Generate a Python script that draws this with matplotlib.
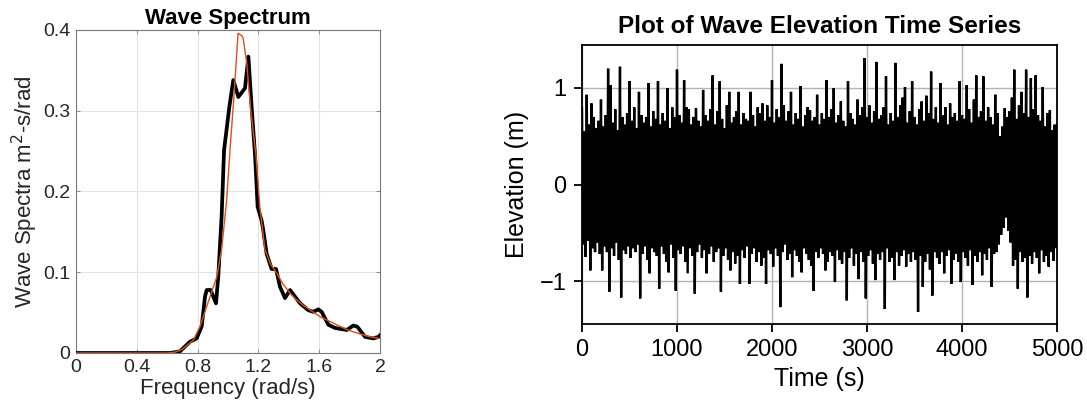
import numpy as np
import matplotlib
matplotlib.use("Agg")
import matplotlib.pyplot as plt

plt.rcParams['font.family'] = ['Liberation Sans', 'DejaVu Sans']

# Spectrum estimated from the record (thick black line)
freq_est = [0.0, 0.62, 0.684, 0.75, 0.794, 0.827, 0.849, 0.86, 0.886, 0.921,
            0.936, 0.958, 0.974, 1.009, 1.035, 1.068, 1.112, 1.134, 1.156,
            1.178, 1.195, 1.221, 1.232, 1.254, 1.287, 1.316, 1.342, 1.375,
            1.408, 1.474, 1.528, 1.561, 1.594, 1.616, 1.66, 1.704, 1.781,
            1.825, 1.851, 1.901, 1.956, 1.99, 2.0]
spec_est = [0.0, 0.0, 0.002, 0.014, 0.018, 0.033, 0.070, 0.078, 0.078, 0.0615,
            0.0945, 0.169, 0.251, 0.305, 0.338, 0.317, 0.328, 0.367, 0.303,
            0.245, 0.181, 0.164, 0.152, 0.123, 0.104, 0.104, 0.082, 0.068,
            0.078, 0.0615, 0.053, 0.051, 0.054, 0.051, 0.035, 0.031, 0.0285,
            0.034, 0.0325, 0.020, 0.018, 0.020, 0.022]

# Fitted target spectrum (thin orange line)
freq_fit = [0.0, 0.6, 0.65, 0.695, 0.772, 0.816, 0.882, 0.926, 0.958, 0.991,
            1.013, 1.04, 1.066, 1.09, 1.099, 1.123, 1.15, 1.184, 1.21, 1.243,
            1.28, 1.32, 1.36, 1.408, 1.45, 1.495, 1.55, 1.605, 1.66, 1.715,
            1.77, 1.825, 1.88, 1.934, 2.0]
spec_fit = [0.0, 0.0, 0.001, 0.004, 0.016, 0.033, 0.070, 0.094, 0.128, 0.189,
            0.251, 0.32, 0.396, 0.393, 0.390, 0.36, 0.30, 0.245, 0.18, 0.128,
            0.11, 0.099, 0.086, 0.074, 0.066, 0.059, 0.052, 0.045, 0.040,
            0.035, 0.030, 0.026, 0.023, 0.020, 0.018]

# Wave elevation record: highest crest and deepest trough in each 25 s window
window_s = 25.0
crest_m = [
    0.79, 0.55, 0.93, 0.62, 0.84, 0.70, 0.58, 0.66, 0.88, 0.60,
    0.72, 1.20, 1.03, 0.64, 0.78, 0.56, 1.22, 0.70, 0.62, 0.74,
    1.07, 0.66, 0.80, 0.58, 0.96, 0.72, 0.64, 0.70, 1.05, 0.60,
    0.76, 0.68, 1.07, 0.62, 0.74, 0.66, 1.00, 0.58, 0.80, 0.70,
    1.19, 0.72, 0.64, 1.08, 0.80, 0.78, 0.62, 0.70, 0.79, 0.66,
    0.60, 0.98, 0.72, 0.66, 0.78, 1.13, 0.62, 0.76, 1.07, 0.68,
    0.58, 0.82, 0.96, 0.64, 0.70, 0.76, 0.96, 0.62, 0.74, 0.68,
    0.66, 0.96, 0.72, 0.60, 0.80, 0.74, 0.84, 0.66, 0.82, 0.70,
    1.08, 0.64, 0.78, 0.70, 1.25, 0.82, 0.66, 0.76, 0.96, 0.62,
    0.74, 0.68, 1.02, 0.60, 0.72, 0.80, 0.77, 0.66, 0.70, 0.93,
    0.62, 0.74, 0.68, 1.08, 0.70, 0.78, 1.00, 0.64, 0.72, 0.86,
    0.66, 0.60, 1.07, 0.74, 0.68, 0.62, 0.88, 0.72, 0.80, 1.31,
    0.70, 0.82, 0.64, 0.76, 1.27, 0.68, 0.72, 0.80, 1.12, 0.62,
    0.74, 0.66, 1.26, 0.70, 0.82, 0.90, 1.01, 0.64, 0.76, 1.07,
    0.70, 0.62, 0.78, 0.86, 0.66, 0.92, 0.74, 1.17, 0.68, 0.80,
    0.64, 1.05, 0.72, 0.80, 0.62, 0.84, 0.70, 0.74, 0.66, 1.07,
    0.72, 0.68, 1.03, 0.78, 0.64, 0.88, 1.13, 0.70, 0.76, 1.12,
    0.66, 0.80, 0.70, 0.62, 0.93, 0.74, 0.50, 0.60, 0.79, 0.70,
    0.76, 0.90, 1.19, 0.68, 0.82, 0.96, 0.74, 1.19, 0.70, 1.10,
    0.78, 1.13, 0.72, 0.66, 1.01, 0.60, 0.74, 0.77, 0.56, 0.62,
]
trough_m = [
    -0.62, -0.75, -0.58, -0.89, -0.66, -0.70, -0.60, -0.72, -0.89, -0.64,
    -0.70, -1.11, -0.66, -0.74, -0.60, -0.78, -1.17, -0.68, -0.72, -0.64,
    -0.76, -0.66, -0.70, -0.62, -1.18, -0.72, -0.64, -0.78, -0.92, -0.66,
    -0.70, -0.74, -1.08, -0.64, -0.72, -0.80, -0.91, -0.62, -0.76, -1.10,
    -0.68, -0.72, -0.64, -0.80, -0.92, -0.66, -0.74, -1.13, -0.70, -0.62,
    -0.76, -0.68, -0.92, -0.72, -0.64, -0.80, -0.70, -0.66, -1.11, -0.74,
    -0.66, -0.78, -0.89, -0.70, -0.82, -0.74, -1.03, -0.68, -0.76, -0.64,
    -1.03, -0.72, -0.66, -0.80, -0.70, -0.84, -0.76, -1.03, -0.68, -0.72,
    -0.85, -0.66, -0.74, -1.27, -0.70, -0.62, -0.78, -0.72, -0.96, -0.68,
    -0.74, -0.80, -0.91, -0.66, -0.72, -0.78, -0.84, -1.10, -0.70, -0.76,
    -0.66, -0.72, -0.89, -0.80, -0.70, -0.74, -1.01, -0.68, -0.78, -0.82,
    -0.70, -1.20, -0.76, -0.66, -0.84, -0.72, -0.98, -0.70, -0.80, -1.18,
    -0.74, -0.68, -0.82, -0.99, -0.72, -0.78, -0.70, -1.29, -0.66, -0.80,
    -0.76, -0.99, -0.70, -0.84, -0.74, -0.68, -0.85, -0.72, -0.80, -0.70,
    -0.78, -1.32, -0.74, -1.06, -0.80, -0.72, -0.88, -1.15, -0.70, -0.76,
    -0.82, -0.70, -0.92, -0.74, -0.68, -1.03, -0.78, -0.72, -0.80, -1.01,
    -0.70, -0.76, -0.84, -0.68, -1.04, -0.74, -0.80, -0.70, -0.94, -0.72,
    -0.78, -0.66, -1.06, -0.72, -0.70, -0.62, -0.52, -0.45, -0.34, -0.48,
    -0.60, -0.84, -0.78, -1.08, -0.70, -0.80, -0.76, -1.17, -0.74, -0.82,
    -0.70, -0.76, -0.92, -0.68, -0.80, -0.74, -0.85, -0.70, -0.79, -0.66,
]

fig = plt.figure(figsize=(10.87, 4.17), dpi=100)
ax1 = fig.add_axes([0.0699, 0.1535, 0.2797, 0.7746])
ax2 = fig.add_axes([0.5354, 0.223, 0.437, 0.669])

# --- spectrum panel ---
ax1.plot(freq_est, spec_est, color='black', lw=2.7, solid_joinstyle='round', zorder=3)
ax1.plot(freq_fit, spec_fit, color='#D95319', lw=1.0, zorder=4)
ax1.set_xlim(0, 2)
ax1.set_ylim(0, 0.4)
ax1.set_xticks([0, 0.4, 0.8, 1.2, 1.6, 2])
ax1.set_xticklabels(['0', '0.4', '0.8', '1.2', '1.6', '2'])
ax1.set_yticks([0, 0.1, 0.2, 0.3, 0.4])
ax1.set_yticklabels(['0', '0.1', '0.2', '0.3', '0.4'])
ax1.grid(True, color='#e3e3e3', lw=0.8)
ax1.set_axisbelow(True)
ax1.tick_params(direction='in', length=3, width=0.6, colors='#7a7a7a',
                labelcolor='#262626', labelsize=14, top=True, right=True, pad=4)
for s in ax1.spines.values():
    s.set_color('#7a7a7a')
    s.set_linewidth(0.8)
ax1.set_title('Wave Spectrum', fontsize=16, fontweight='bold', pad=4)
ax1.set_xlabel('Frequency (rad/s)', fontsize=16, color='#262626', labelpad=2)
ax1.set_ylabel('Wave Spectra m$^2$-s/rad', fontsize=16, color='#262626', labelpad=2)

# --- time series panel: crest / trough alternation per window ---
n = len(crest_m)
t_crest = np.arange(n) * window_s
t_trough = t_crest + window_s / 2
ts = np.empty(2 * n + 1)
es = np.empty(2 * n + 1)
ts[0:2 * n:2] = t_crest
ts[1:2 * n:2] = t_trough
es[0:2 * n:2] = crest_m
es[1:2 * n:2] = trough_m
ts[-1] = n * window_s
es[-1] = crest_m[-1]
ax2.plot(ts, es, color='black', lw=1.7, solid_joinstyle='miter', zorder=3)
ax2.set_xlim(0, 5000)
ax2.set_ylim(-1.445, 1.445)
ax2.set_xticks([0, 1000, 2000, 3000, 4000, 5000])
ax2.set_yticks([-1, 0, 1])
ax2.set_yticklabels(['\u22121', '0', '1'])
ax2.grid(True, color='#b4b4b4', lw=1.0)
ax2.set_axisbelow(True)
ax2.tick_params(direction='out', length=6, width=1.3, labelsize=17, pad=5)
for s in ax2.spines.values():
    s.set_color('black')
    s.set_linewidth(1.3)
ax2.set_title('Plot of Wave Elevation Time Series', fontsize=17.5, fontweight='bold', pad=9)
ax2.set_xlabel('Time (s)', fontsize=18, labelpad=4)
ax2.set_ylabel('Elevation (m)', fontsize=18, labelpad=8)

fig.savefig('out.png', dpi=100)
